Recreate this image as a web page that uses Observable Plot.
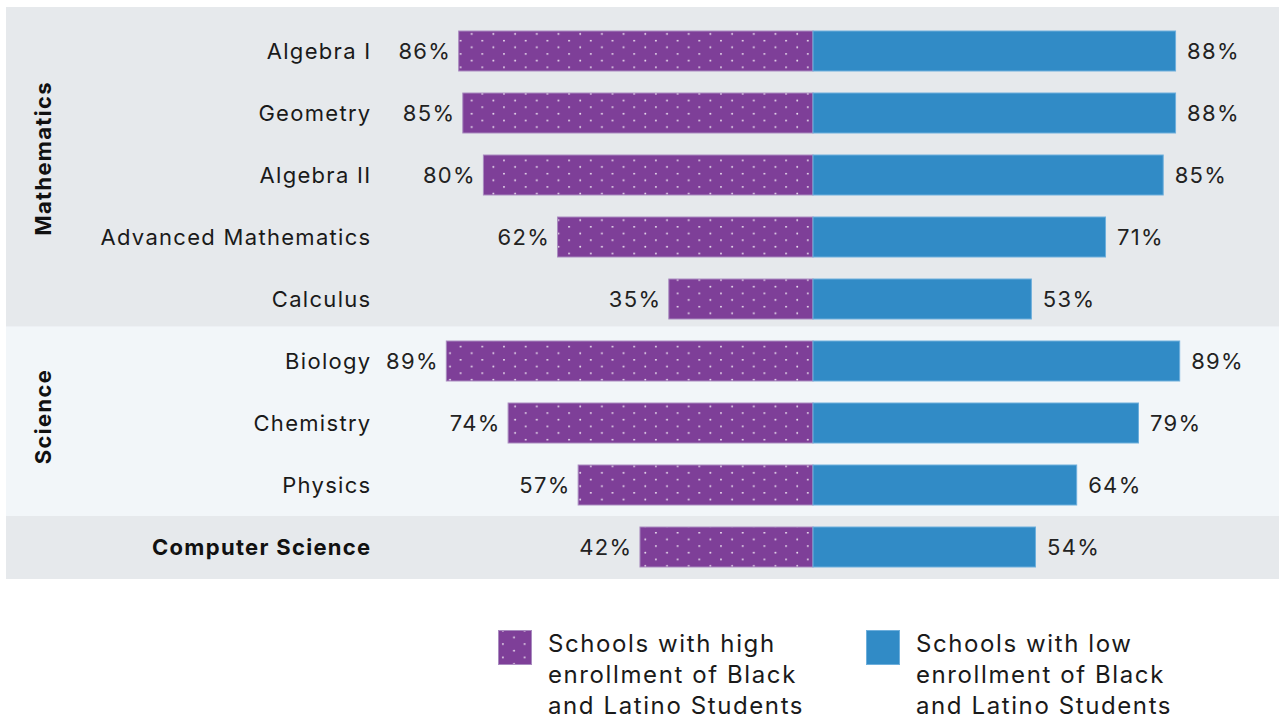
<!DOCTYPE html>
<html><head><meta charset="utf-8">
<script src="https://cdn.jsdelivr.net/npm/d3@7"></script>
<script src="https://cdn.jsdelivr.net/npm/@observablehq/plot@0.6"></script>
<style>
body{margin:0;background:#fff;font-family:Inter, sans-serif;}
#legend{position:relative;height:119px;}
.item{position:absolute;top:30px;display:flex;align-items:flex-start;}
.sw{width:34px;height:35px;margin-right:16px;flex:none;}
.lt{font-size:24px;line-height:31px;color:#1a1a1a;margin-top:-2px;letter-spacing:1.6px;}
</style></head><body>
<div id="chart"></div><div id="legend"></div>
<script>
const subjects = ["Algebra I","Geometry","Algebra II","Advanced Mathematics","Calculus","Biology","Chemistry","Physics","Computer Science"];
const groups = ["Mathematics","Mathematics","Mathematics","Mathematics","Mathematics","Science","Science","Science","Computer Science"];
const highEnrollment = [86,85,80,62,35,89,74,57,42];
const lowEnrollment = [88,88,85,71,53,89,79,64,54];
const seriesNames = ["Schools with high enrollment of Black and Latino Students","Schools with low enrollment of Black and Latino Students"];

const rows = subjects.map((s,i)=>({subject:s, group:groups[i], high:highEnrollment[i], low:lowEnrollment[i]}));
const groupMid = g => { const r = rows.filter(d=>d.group===g); return [r[Math.floor(r.length/2)]]; };

const PURPLE="#7e3f98", BLUE="#318bc6";
const bgSpan = {insetLeft:-395, insetRight:-54};

const chart = Plot.plot({
  width:1279, height:600,
  marginLeft:401, marginRight:54, marginTop:19, marginBottom:22,
  x:{domain:[-100,100], axis:null},
  y:{domain:subjects, padding:0, axis:null},
  style:{fontFamily:"Inter, sans-serif", fontSize:"22px", letterSpacing:"1.3px", background:"transparent", overflow:"visible"},
  marks:[
    Plot.cell(rows.filter(d=>d.group==="Mathematics"), {y:"subject", fill:"#e6e9ec", insetTop:-13, ...bgSpan}),
    Plot.cell(rows.filter(d=>d.group==="Science"), {y:"subject", fill:"#f2f6f9", insetTop:-3.6, ...bgSpan}),
    Plot.cell(rows.filter(d=>d.group==="Computer Science"), {y:"subject", fill:"#e6e9ec", insetBottom:-1, ...bgSpan}),
    Plot.barX(rows, {y:"subject", x1:d=>-d.high, x2:0, fill:"url(#dots)", stroke:"#a98bbf", strokeWidth:1, insetTop:11, insetBottom:11}),
    Plot.barX(rows, {y:"subject", x1:0, x2:"low", fill:BLUE, stroke:"#6eafdc", strokeWidth:1, insetTop:11, insetBottom:11}),
    Plot.text(rows, {y:"subject", x:d=>-d.high, text:d=>d.high+"%", textAnchor:"end", dx:-8, fill:"#222"}),
    Plot.text(rows, {y:"subject", x:"low", text:d=>d.low+"%", textAnchor:"start", dx:11, fill:"#222"}),
    Plot.text(rows.filter(d=>d.group!=="Computer Science"), {y:"subject", text:"subject", frameAnchor:"left", textAnchor:"end", dx:-30, fill:"#1a1a1a"}),
    Plot.text(rows.filter(d=>d.group==="Computer Science"), {y:"subject", text:"subject", frameAnchor:"left", textAnchor:"end", dx:-30, fill:"#111", fontWeight:"bold"}),
    Plot.text(groupMid("Mathematics"), {y:"subject", text:"group", frameAnchor:"left", dx:-358, dy:-17, rotate:-90, textAnchor:"middle", fontWeight:"bold", fill:"#111"}),
    Plot.text(groupMid("Science"), {y:"subject", text:"group", frameAnchor:"left", dx:-358, dy:-7, rotate:-90, textAnchor:"middle", fontWeight:"bold", fill:"#111"})
  ]
});

const defs = d3.select(chart).insert("defs", ":first-child");
const pat = defs.append("pattern").attr("id","dots").attr("patternUnits","userSpaceOnUse").attr("width",21.7).attr("height",13.3);
pat.append("rect").attr("width",21.7).attr("height",13.3).attr("fill",PURPLE);
pat.append("circle").attr("cx",16).attr("cy",7.4).attr("r",0.95).attr("fill","#fff").attr("fill-opacity",0.85);
pat.append("circle").attr("cx",4.9).attr("cy",0.8).attr("r",0.95).attr("fill","#fff").attr("fill-opacity",0.85);
document.getElementById("chart").appendChild(chart);

const legend = document.getElementById("legend");
const fills = ["url(#dots)", BLUE];
const strokes = ["#a98bbf", "#6eafdc"];
const lefts = [498, 866];
const lines = [["Schools with high","enrollment of Black","and Latino Students"],["Schools with low","enrollment of Black","and Latino Students"]];
seriesNames.forEach((name,i)=>{
  const item = document.createElement("div");
  item.className="item"; item.style.left=lefts[i]+"px"; item.title=name;
  item.innerHTML = `<svg class="sw" width="34" height="35"><rect x="0.5" y="0.5" width="33" height="34" fill="${fills[i]}" stroke="${strokes[i]}"/></svg><div class="lt">${lines[i].join("<br>")}</div>`;
  legend.appendChild(item);
});
</script>
</body></html>
